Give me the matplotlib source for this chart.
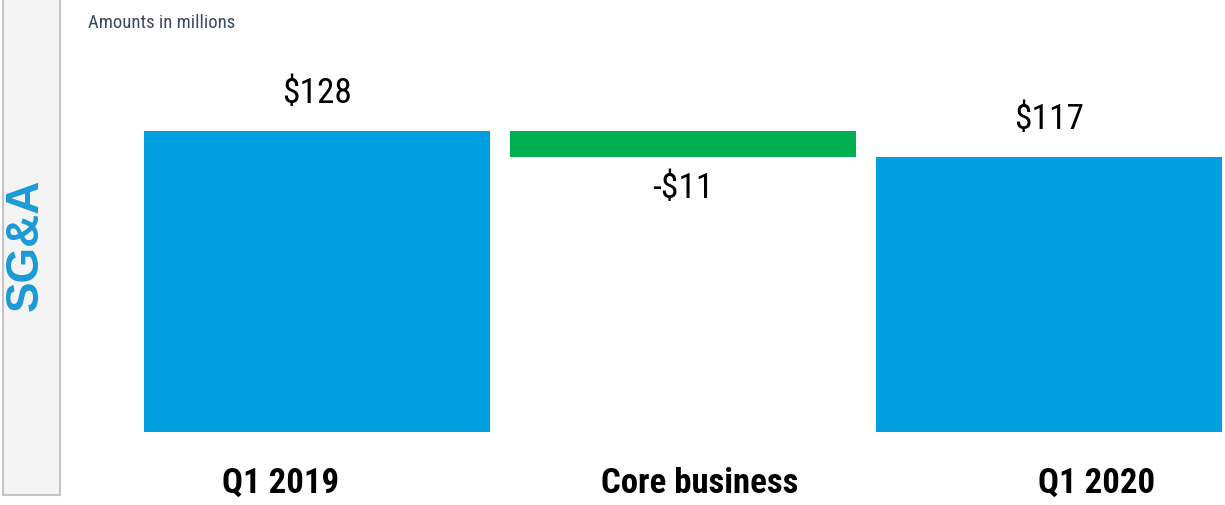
import matplotlib
matplotlib.use('Agg')
import matplotlib.pyplot as plt
from matplotlib.patches import Rectangle

categories = ['Q1 2019', 'Core business', 'Q1 2020']
values = [128, -11, 117]
value_labels = ['$128', '-$11', '$117']

# waterfall: bottoms of the floating bars
tops = [values[0], values[0], values[2]]
bottoms = [0, values[0] + values[1], 0]
heights = [t - b for t, b in zip(tops, bottoms)]
colors = ['#009fdf', '#00b050', '#009fdf']

narrow = ['Roboto Condensed', 'DejaVu Sans']

W, H = 1225, 505
fig = plt.figure(figsize=(W / 100, H / 100), dpi=100)

# side panel with the rotated title
panel = fig.add_axes([0, 0, 1, 1])
panel.set_xlim(0, W)
panel.set_ylim(H, 0)
panel.axis('off')
panel.add_patch(Rectangle((3, -5), 57, 500, facecolor='#f4f4f4', edgecolor='#c4c4c4', lw=1.5))
panel.text(26, 245, 'SG&A', rotation=90, ha='center', va='center', fontsize=33,
           fontweight='bold', color='#1a9ad6', family=['Liberation Sans', 'DejaVu Sans'])
panel.text(88, 23, 'Amounts in millions', ha='left', va='center', fontsize=13.5,
           color='#3b4b5b', family=narrow)

ax = fig.add_axes([144 / W, (H - 432) / H, 1078 / W, 432 / H])
x = range(len(categories))
ax.bar(x, heights, bottom=bottoms, width=0.948, color=colors)
ax.set_xlim(-0.4727, 2.4727)
ax.set_ylim(0, 432 / 2.35)
ax.axis('off')

# value labels
ax.text(0, tops[0] + 9, value_labels[0], ha='center', va='bottom', fontsize=25.5, family=narrow)
ax.text(1, bottoms[1] - 6.5, value_labels[1], ha='center', va='top', fontsize=25.5, family=narrow)
ax.text(2, tops[2] + 9, value_labels[2], ha='center', va='bottom', fontsize=25.5, family=narrow)

# category labels (slightly off-centre as in the source slide)
offsets = [-0.10, 0.045, 0.13]
for i, c in enumerate(categories):
    ax.text(i + offsets[i], -22, c, ha='center', va='center', fontsize=25,
            fontweight='bold', family=narrow, clip_on=False)

fig.savefig('out.png', dpi=100)
